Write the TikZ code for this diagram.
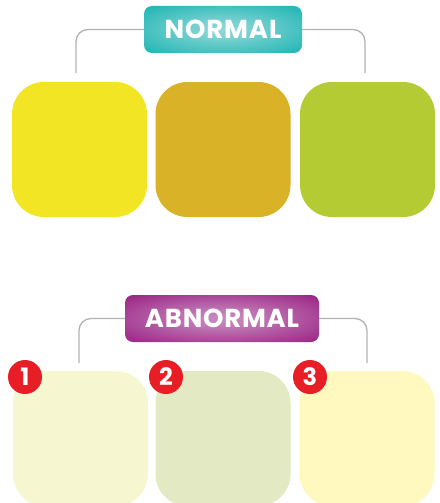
\documentclass[tikz,border=0pt]{standalone}
\usepackage{fontspec}
\setmainfont{Poppins}
\definecolor{yA}{HTML}{F2E524}
\definecolor{yB}{HTML}{DAB227}
\definecolor{yC}{HTML}{B4CB34}
\definecolor{pA}{HTML}{F6F7D0}
\definecolor{pB}{HTML}{E3E9C2}
\definecolor{pC}{HTML}{FFF9C0}
\definecolor{tealO}{HTML}{14B2B1}
\definecolor{tealI}{HTML}{8FD8D6}
\definecolor{purO}{HTML}{961A80}
\definecolor{purI}{HTML}{C98CBF}
\definecolor{badge}{HTML}{E81E27}
\definecolor{linec}{HTML}{B3B3B3}
\pgfdeclareradialshading{softteal}{\pgfpoint{0bp}{0bp}}{color(0bp)=(tealI); color(8bp)=(tealI!85!tealO); color(38bp)=(tealO); color(50bp)=(tealO)}
\pgfdeclareradialshading{softpur}{\pgfpoint{0bp}{0bp}}{color(0bp)=(purI); color(8bp)=(purI!85!purO); color(38bp)=(purO); color(50bp)=(purO)}
\begin{document}
\begin{tikzpicture}[x=1pt,y=-1pt,
  tile/.style={rectangle, rounded corners=32pt, minimum width=135pt, minimum height=135pt, inner sep=0pt, draw=none},
  label/.style={rectangle, rounded corners=8pt, inner sep=0pt, text=white, font=\bfseries\fontsize{26}{26}\selectfont},
  conn/.style={draw=linec, line width=1.3pt, rounded corners=12pt},
  num/.style={circle, fill=badge, minimum size=34pt, inner sep=0pt, text=white, font=\bfseries\fontsize{24}{24}\selectfont}]
\useasboundingbox (0,0) rectangle (439,503);
\clip (0,0) rectangle (439,503);
\fill[white] (0,0) rectangle (439,503);
% top row
\node[tile, fill=yA] (t1) at (79.5,149.5) {};
\node[tile, fill=yB] (t2) at (223,149.5) {};
\node[tile, fill=yC] (t3) at (367.5,149.5) {};
\coordinate (tl) at (76,73);
\coordinate (tr) at (365,73);
\draw[conn] (223,29.5) -| (tl);
\draw[conn] (223,29.5) -| (tr);
\node[label, minimum width=158pt, minimum height=47pt, shading=softteal] (normal) at (223,29.5) {\addfontfeature{LetterSpace=3.5}NORMAL};
% bottom row
\node[tile, fill=pA] (b1) at (80.5,438.5) {};
\node[tile, fill=pB] (b2) at (223,438.5) {};
\node[tile, fill=pC] (b3) at (367,438.5) {};
\coordinate (bl) at (79,363);
\coordinate (br) at (367,363);
\draw[conn] (222,318.5) -| (bl);
\draw[conn] (222,318.5) -| (br);
\node[label, minimum width=194pt, minimum height=47pt, shading=softpur] (abnormal) at (222,318.5) {\addfontfeature{LetterSpace=3}ABNORMAL};
\node[num] (n1) at (25,377) {1};
\node[num] (n2) at (166,377) {2};
\node[num] (n3) at (310,377) {3};
\end{tikzpicture}
\end{document}
